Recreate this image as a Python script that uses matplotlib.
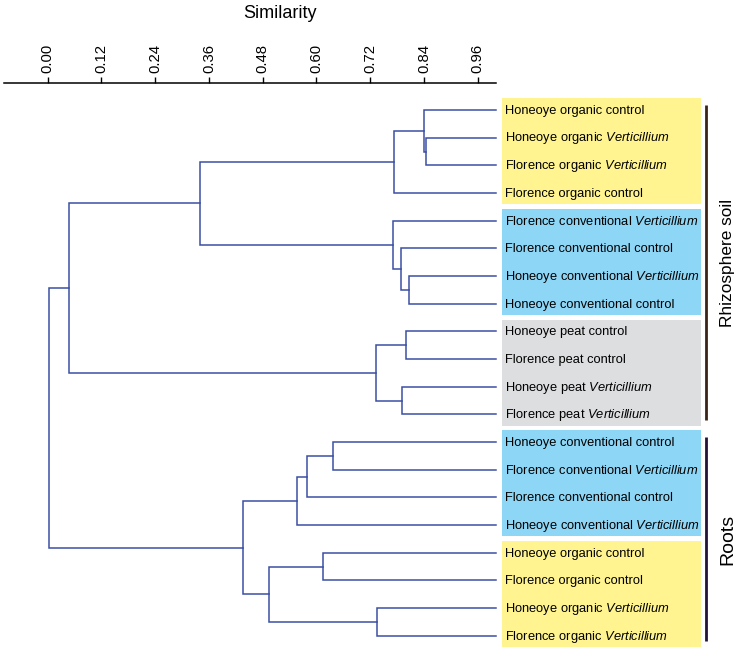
import numpy as np
import matplotlib
matplotlib.use("Agg")
import matplotlib.pyplot as plt
from matplotlib.patches import Rectangle

# leaves, top to bottom
labels = [
    "Honeoye organic control", "Honeoye organic $\\mathit{Verticillium}$",
    "Florence organic $\\mathit{Verticillium}$", "Florence organic control",
    "Florence conventional $\\mathit{Verticillium}$", "Florence conventional control",
    "Honeoye conventional $\\mathit{Verticillium}$", "Honeoye conventional control",
    "Honeoye peat control", "Florence peat control",
    "Honeoye peat $\\mathit{Verticillium}$", "Florence peat $\\mathit{Verticillium}$",
    "Honeoye conventional control", "Florence conventional $\\mathit{Verticillium}$",
    "Florence conventional control", "Honeoye conventional $\\mathit{Verticillium}$",
    "Honeoye organic control", "Florence organic control",
    "Honeoye organic $\\mathit{Verticillium}$", "Florence organic $\\mathit{Verticillium}$",
]
# merges: (child a, child b, similarity); new node ids start at 20
merge_a = [1, 0, 21, 6, 5, 4, 22, 8, 10, 27, 26, 12, 31, 32, 16, 18, 34, 33, 30]
merge_b = [2, 20, 3, 7, 23, 24, 25, 9, 11, 28, 29, 13, 14, 15, 17, 19, 35, 36, 37]
merge_sim = [0.844, 0.840, 0.774, 0.807, 0.789, 0.772, 0.341, 0.800, 0.792, 0.732,
             0.048, 0.636, 0.580, 0.556, 0.615, 0.736, 0.493, 0.435, 0.004]

box_first = [0, 4, 8, 12, 16]
box_last = [3, 7, 11, 15, 19]
box_colors = ["#fff48f", "#8dd6f6", "#dcdee0", "#8dd6f6", "#fff48f"]

groups = ["Rhizosphere soil", "Roots"]
group_first = [0, 12]
group_last = [11, 19]
group_colors = ["#3a2418", "#24123a"]
group_sizes = [12.4, 14]

ticks = [0.00, 0.12, 0.24, 0.36, 0.48, 0.60, 0.72, 0.84, 0.96]

plt.rcParams["font.family"] = "Liberation Sans"
plt.rcParams["mathtext.fontset"] = "custom"
plt.rcParams["mathtext.rm"] = "Liberation Sans"
plt.rcParams["mathtext.it"] = "Liberation Sans:italic"

fig = plt.figure(figsize=(7.4, 6.53), dpi=100)
ax = fig.add_axes([0, 0, 1, 1 - 82.7 / 653])
ax.set_xlim(-0.1065, 1.5457)
ax.set_ylim(19.62, -0.986)

line_col = "#3b4fa3"
n = len(labels)
ypos = {i: float(i) for i in range(n)}
xpos = {i: 1.0 for i in range(n)}
for k, (a, b, s) in enumerate(zip(merge_a, merge_b, merge_sim)):
    node = n + k
    ax.plot([xpos[a], s, s, xpos[b]], [ypos[a], ypos[a], ypos[b], ypos[b]],
            color=line_col, lw=1.1, solid_joinstyle="miter")
    ypos[node] = (ypos[a] + ypos[b]) / 2
    xpos[node] = s

# coloured boxes + labels
for f, l, c in zip(box_first, box_last, box_colors):
    ax.add_patch(Rectangle((1.0143, f - 0.42), 1.4586 - 1.0143, l - f + 0.83,
                           facecolor=c, edgecolor="none", zorder=0))
for i, lab in enumerate(labels):
    ax.text(1.021, i + 0.03, lab, fontsize=9.3, va="center", ha="left")

# group brackets
for g, f, l, c, fs in zip(groups, group_first, group_last, group_colors, group_sizes):
    ax.plot([1.4698, 1.4698], [f - 0.18, l + 0.2], color=c, lw=2.0, solid_capstyle="butt")
    ax.text(1.5189, (f + l) / 2 + 0.01, g, rotation=90, fontsize=fs,
            va="center", ha="center")

for sp in ["left", "right", "bottom"]:
    ax.spines[sp].set_visible(False)
ax.spines["top"].set_bounds(-0.097, 1.0)
ax.spines["top"].set_linewidth(1.1)
ax.xaxis.tick_top()
ax.set_xticks(ticks)
ax.set_xticklabels([f"{t:.2f}" for t in ticks], rotation=90, fontsize=10.7)
ax.tick_params(axis="x", direction="out", length=4, width=1, pad=3)
ax.set_yticks([])

fig.text(280 / 740, 1 - 13 / 653, "Similarity", ha="center", va="center", fontsize=13)

fig.savefig("out.png", dpi=100)
